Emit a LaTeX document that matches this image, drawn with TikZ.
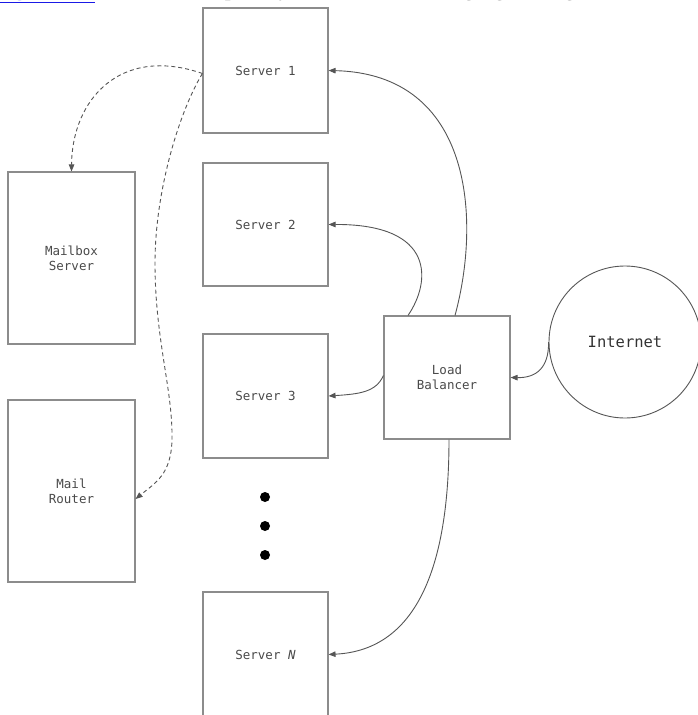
\documentclass[tikz,border=0pt]{standalone}
\usepackage{fontspec}
\setmainfont{Liberation Serif}
\newfontfamily\labelfont{DejaVu Sans Mono}
\usetikzlibrary{arrows.meta}
\definecolor{boxgray}{HTML}{8C8C8C}
\definecolor{linegray}{HTML}{555555}
\definecolor{txtgray}{HTML}{4A4A4A}
\definecolor{linkblue}{HTML}{1A1AE6}
\tikzset{
  box/.style={draw=boxgray, line width=1.1pt, fill=white, inner sep=0pt,
    align=center, text=txtgray, font=\labelfont\fontsize{12.5}{15}\selectfont},
  conn/.style={draw=linegray, line width=0.9pt, -{Triangle[length=7pt,width=5.5pt]}},
  dconn/.style={conn, dash pattern=on 4pt off 3pt},
  dotnode/.style={circle, fill=black, inner sep=0pt, minimum size=10pt},
}
\begin{document}
\begin{tikzpicture}[x=1pt,y=-1pt]
\useasboundingbox (0,0) rectangle (698,715);
\begin{scope}
\clip (0,0) rectangle (698,715);
\node[anchor=base west, inner sep=0pt, font=\fontsize{24}{28}\selectfont] (caption) at (-6,-4.5)
  {\textcolor{linkblue}{\underline{Figure 1-6}} shows a completely distributed messaging settings};
\end{scope}
% servers
\node[box, minimum width=125pt, minimum height=125pt] (s1) at (265.5,70.5) {Server 1};
\node[box, minimum width=125pt, minimum height=123pt] (s2) at (265.5,224.5) {Server 2};
\node[box, minimum width=125pt, minimum height=124pt] (s3) at (265.5,396) {Server 3};
\node[box, minimum width=125pt, minimum height=125pt] (sN) at (265.5,654.5) {Server \textit{N}};
% mail
\node[box, minimum width=127pt, minimum height=172pt] (mb) at (71.5,258) {Mailbox\\Server};
\node[box, minimum width=127pt, minimum height=182pt] (mr) at (71.5,491) {Mail\\Router};
% load balancer
\node[box, minimum width=126pt, minimum height=123pt] (lb) at (447,377.5) {Load\\Balancer};
% internet
\node[draw=linegray, line width=0.9pt, circle, minimum size=152pt, inner sep=0pt,
  text=black!80, font=\labelfont\fontsize{15.5}{18}\selectfont] (inet) at (625,342) {Internet};
% dots
\node[dotnode] (d1) at (265,497) {};
\node[dotnode] (d2) at (265,526) {};
\node[dotnode] (d3) at (265,555) {};
% connectors
\draw[conn] ([xshift=8pt]lb.north) .. controls (481,220) and (473,74) .. (s1.east);
\draw[conn] ([xshift=-39pt]lb.north) .. controls (431,282) and (436,224) .. (s2.east);
\draw[conn] ([yshift=2pt]lb.west) .. controls (376,392) and (360,394) .. (s3.east);
\draw[conn] ([xshift=2pt]lb.south) .. controls (449,560) and (420,650) .. (sN.east);
\draw[conn] (inet.west) .. controls (549,368) and (536,378) .. (lb.east);
% dashed
\draw[dconn] ([yshift=-3pt]s1.west) .. controls (120,45) and (72,100) .. (mb.north);
\draw[dconn] ([yshift=-3pt]s1.west) .. controls (180,110) and (155,190) .. (155,263)
  .. controls (155,340) and (173,390) .. (172,440)
  .. controls (171,475) and (155,483) .. ([yshift=-8pt]mr.east);
\end{tikzpicture}
\end{document}
